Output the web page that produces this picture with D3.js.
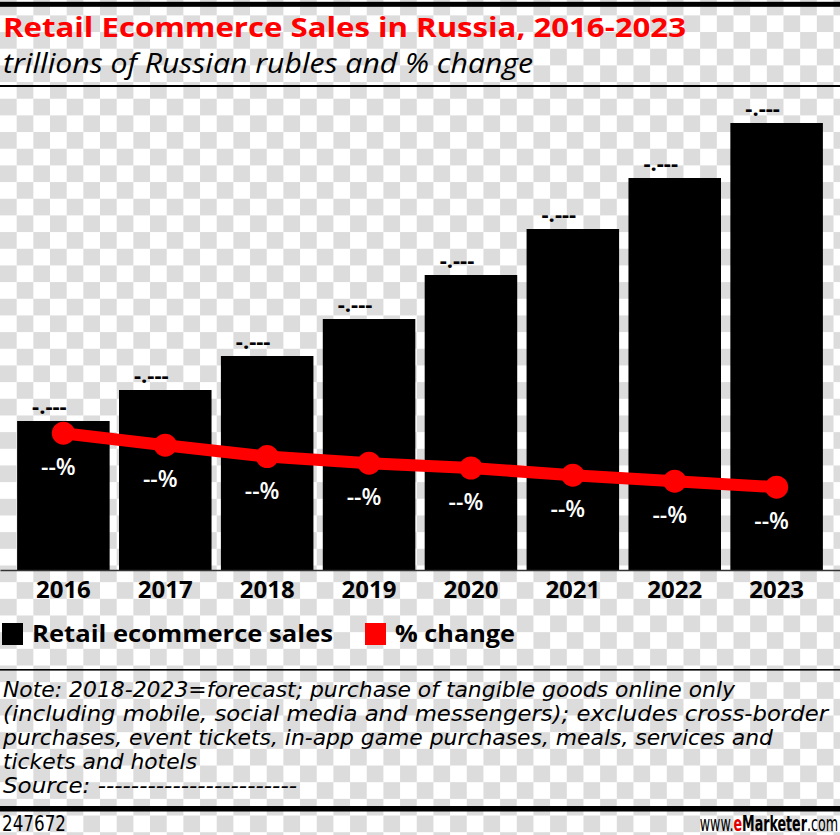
<!DOCTYPE html>
<html><head><meta charset="utf-8">
<script src="https://cdn.jsdelivr.net/npm/d3@7"></script>
<style>html,body{margin:0;padding:0;background:#fff}svg{display:block}</style>
</head><body>
<script>
const years = ["2016","2017","2018","2019","2020","2021","2022","2023"];
const sales = [1.49, 1.80, 2.14, 2.51, 2.95, 3.41, 3.92, 4.47];
const pctChange = [22.8, 20.8, 18.9, 17.8, 17.0, 15.8, 14.8, 13.8];
const salesLabels = ["-.---","-.---","-.---","-.---","-.---","-.---","-.---","-.---"];
const pctLabels = ["--%","--%","--%","--%","--%","--%","--%","--%"];
const legendLabels = ["Retail ecommerce sales", "% change"];
const titleText = "Retail Ecommerce Sales in Russia, 2016-2023";
const subtitleText = "trillions of Russian rubles and % change";
const noteLines = [
  "Note: 2018-2023=forecast; purchase of tangible goods online only",
  "(including mobile, social media and messengers); excludes cross-border",
  "purchases, event tickets, in-app game purchases, meals, services and",
  "tickets and hotels",
  "Source: ------------------------"
];
const footerId = "247672";

const W = 840, H = 835;
const svg = d3.select("body").append("svg").attr("width", W).attr("height", H);

// checkerboard background
const cs = 16.67, offY = -1.3;
svg.append("rect").attr("width",W).attr("height",H).attr("fill","#ffffff");
const cells = [];
for (let r = 0; r * cs + offY < H; r++) {
  for (let c = 0; c * cs < W; c++) {
    if ((r + c) % 2 === 0) cells.push({r, c});
  }
}
svg.append("g").selectAll("rect").data(cells).join("rect")
  .attr("x", d => d.c * cs).attr("y", d => d.r * cs + offY)
  .attr("width", cs).attr("height", cs).attr("fill", "#dcdcdc");

const sansBold = "'Open Sans', 'DejaVu Sans', sans-serif";
const narrow = "'Liberation Sans Narrow', 'DejaVu Sans Condensed', 'Liberation Sans', sans-serif";

// top rule
svg.append("rect").attr("x",0).attr("y",1.8).attr("width",W).attr("height",5).attr("fill","#000");
// title
svg.append("text").attr("x",3).attr("y",37).attr("fill","#ff0000")
  .style("font-family",sansBold).style("font-weight",700).style("font-size","26.5px")
  .attr("textLength",683).attr("lengthAdjust","spacingAndGlyphs").text(titleText);
svg.append("text").attr("x",3).attr("y",73).attr("fill","#000")
  .style("font-family",sansBold).style("font-style","italic").style("font-size","27.5px")
  .attr("textLength",530).attr("lengthAdjust","spacingAndGlyphs").text(subtitleText);
svg.append("rect").attr("x",0).attr("y",85).attr("width",W).attr("height",2).attr("fill","#000");

// scales
const baseY = 570;
const x = d3.scaleBand().domain(years).range([0, W]).paddingInner(0.092).paddingOuter(0.168);
const y = d3.scaleLinear().domain([0, 5]).range([baseY, 70]);
const yP = d3.scaleLinear().domain([0, 25]).range([baseY, 420]);
const bw = x.bandwidth();

const data = years.map((yr,i)=>({year:yr, sales:sales[i], pct:pctChange[i], sl:salesLabels[i], pl:pctLabels[i]}));

// bars
svg.append("g").selectAll("rect").data(data).join("rect")
  .attr("x", d=>x(d.year)).attr("y", d=>y(d.sales))
  .attr("width", bw).attr("height", d=>y(0)-y(d.sales)).attr("fill","#000");

// value labels above bars
svg.append("g").selectAll("text").data(data).join("text")
  .attr("x", d=>x(d.year)+bw/2-14).attr("y", d=>y(d.sales)-7)
  .attr("text-anchor","middle").attr("fill","#000")
  .style("font-family",sansBold).style("font-weight",700).style("font-size","22px")
  .text(d=>d.sl);

// x axis
const xAxis = svg.append("g").attr("transform",`translate(0,${baseY})`)
  .call(d3.axisBottom(x).tickSize(0).tickSizeOuter(0));
xAxis.select(".domain").attr("stroke","#333").attr("stroke-width",1.5);
xAxis.selectAll("text").attr("y",28).attr("dy","0").attr("fill","#000")
  .style("font-family",sansBold).style("font-weight",700).style("font-size","24px");

// % change line
const line = d3.line().x(d=>x(d.year)+bw/2).y(d=>yP(d.pct));
svg.append("path").datum(data).attr("d",line).attr("fill","none")
  .attr("stroke","#ff0000").attr("stroke-width",12).attr("stroke-linejoin","round");
svg.append("g").selectAll("circle").data(data).join("circle")
  .attr("cx", d=>x(d.year)+bw/2).attr("cy", d=>yP(d.pct)).attr("r",11.5).attr("fill","#ff0000");
svg.append("g").selectAll("text").data(data).join("text")
  .attr("x", d=>x(d.year)+bw/2-5).attr("y", d=>yP(d.pct)+42)
  .attr("text-anchor","middle").attr("fill","#fff")
  .style("font-family",sansBold).style("font-weight",600).style("font-size","23px")
  .text(d=>d.pl);

// legend
const lg = svg.append("g");
lg.append("rect").attr("x",2).attr("y",623).attr("width",21).attr("height",22).attr("fill","#000");
lg.append("text").attr("x",32).attr("y",642).attr("fill","#000")
  .style("font-family",sansBold).style("font-weight",700).style("font-size","23.5px")
  .attr("textLength",301).attr("lengthAdjust","spacingAndGlyphs").text(legendLabels[0]);
lg.append("rect").attr("x",365).attr("y",623).attr("width",21).attr("height",22).attr("fill","#ff0000");
lg.append("text").attr("x",395).attr("y",642).attr("fill","#000")
  .style("font-family",sansBold).style("font-weight",700).style("font-size","23.5px")
  .attr("textLength",120).attr("lengthAdjust","spacingAndGlyphs").text(legendLabels[1]);

// note rule
svg.append("rect").attr("x",0).attr("y",669).attr("width",W).attr("height",1.6).attr("fill","#000");

const noteWidths = [732, 825, 770, 194, 294];
const noteBase = [697, 721, 745, 769, 793];
svg.append("g").selectAll("text").data(noteLines).join("text")
  .attr("x",3).attr("y",(d,i)=>noteBase[i]).attr("fill","#000")
  .style("font-family",narrow).style("font-style","italic").style("font-size","21px")
  .attr("textLength",(d,i)=>noteWidths[i]).attr("lengthAdjust","spacingAndGlyphs")
  .text(d=>d);

// bottom thick rule
svg.append("rect").attr("x",0).attr("y",806).attr("width",W).attr("height",5.5).attr("fill","#000");

svg.append("text").attr("x",2).attr("y",831).attr("fill","#000")
  .style("font-family",narrow).style("font-size","21px")
  .attr("textLength",64).attr("lengthAdjust","spacingAndGlyphs").text(footerId);

const brand = svg.append("g").attr("transform","translate(838,831) scale(0.64,1)")
  .append("text").attr("x",0).attr("y",0).attr("text-anchor","end")
  .style("font-family",narrow).style("font-size","22px");
brand.append("tspan").attr("fill","#000").text("www.");
brand.append("tspan").attr("fill","#e00000").style("font-weight",700).text("e");
brand.append("tspan").attr("fill","#000").style("font-weight",700).text("Marketer");
brand.append("tspan").attr("fill","#000").text(".com");
</script>
</body></html>
